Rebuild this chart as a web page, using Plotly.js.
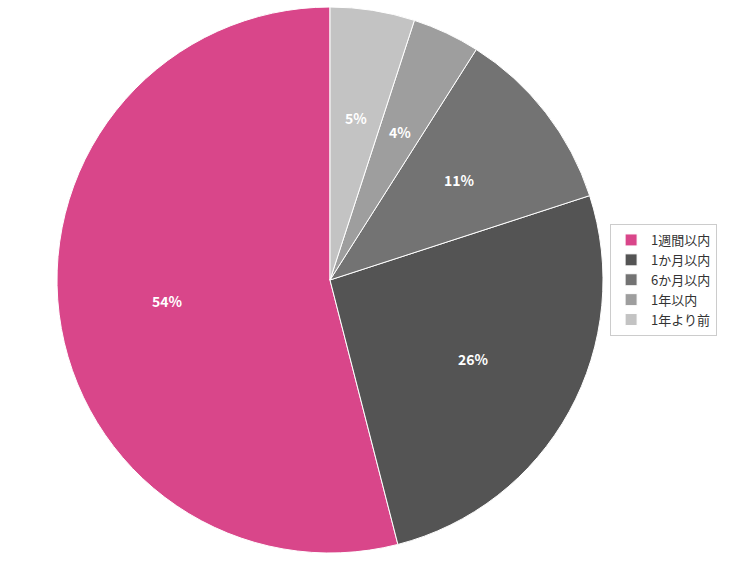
<!DOCTYPE html>
<html>
<head>
<meta charset="utf-8">
<script src="https://cdn.plot.ly/plotly-3.0.1.min.js"></script>
<style>html,body{margin:0;padding:0;background:#fff;}#chart{width:738px;height:562px;}</style>
</head>
<body>
<div id="chart"></div>
<script>
const labels = ["1週間以内", "1か月以内", "6か月以内", "1年以内", "1年より前"];
const values = [54, 26, 11, 4, 5];
const colors = ["#d9468a", "#545454", "#737373", "#9e9e9e", "#c3c3c3"];

const trace = {
  type: "pie",
  labels: labels,
  values: values,
  sort: false,
  direction: "counterclockwise",
  rotation: 165.6,
  marker: {colors: colors, line: {color: "#ffffff", width: 1}},
  textinfo: "none",
  hoverinfo: "label+percent"
};

// Percentage labels placed at 60% of the radius along each slice's mid-angle
const total = values.reduce((a, b) => a + b, 0);
const annotations = [];
let cum = 0;
values.forEach((v) => {
  const mid = (cum + v / 2) / total * 2 * Math.PI;
  cum += v;
  annotations.push({
    xref: "paper", yref: "paper",
    x: 0.5 - 0.3 * Math.sin(mid),
    y: 0.5 + 0.3 * Math.cos(mid),
    text: Math.round(v / total * 100) + "%",
    showarrow: false,
    xanchor: "center", yanchor: "middle",
    font: {family: "Noto Sans CJK JP", size: 14, color: "#ffffff", weight: "bold"}
  });
});

const layout = {
  width: 738,
  height: 562,
  margin: {l: 57, r: 135, t: 7, b: 9},
  paper_bgcolor: "#ffffff",
  plot_bgcolor: "#ffffff",
  showlegend: true,
  legend: {
    x: 1.013, xanchor: "left", y: 0.5, yanchor: "middle",
    bordercolor: "#cccccc", borderwidth: 1,
    font: {family: "Noto Sans CJK JP", size: 13, color: "#333333"},
    traceorder: "normal"
  },
  annotations: annotations,
  font: {family: "Noto Sans CJK JP"}
};

Plotly.newPlot("chart", [trace], layout, {displayModeBar: false, staticPlot: true});
</script>
</body>
</html>
